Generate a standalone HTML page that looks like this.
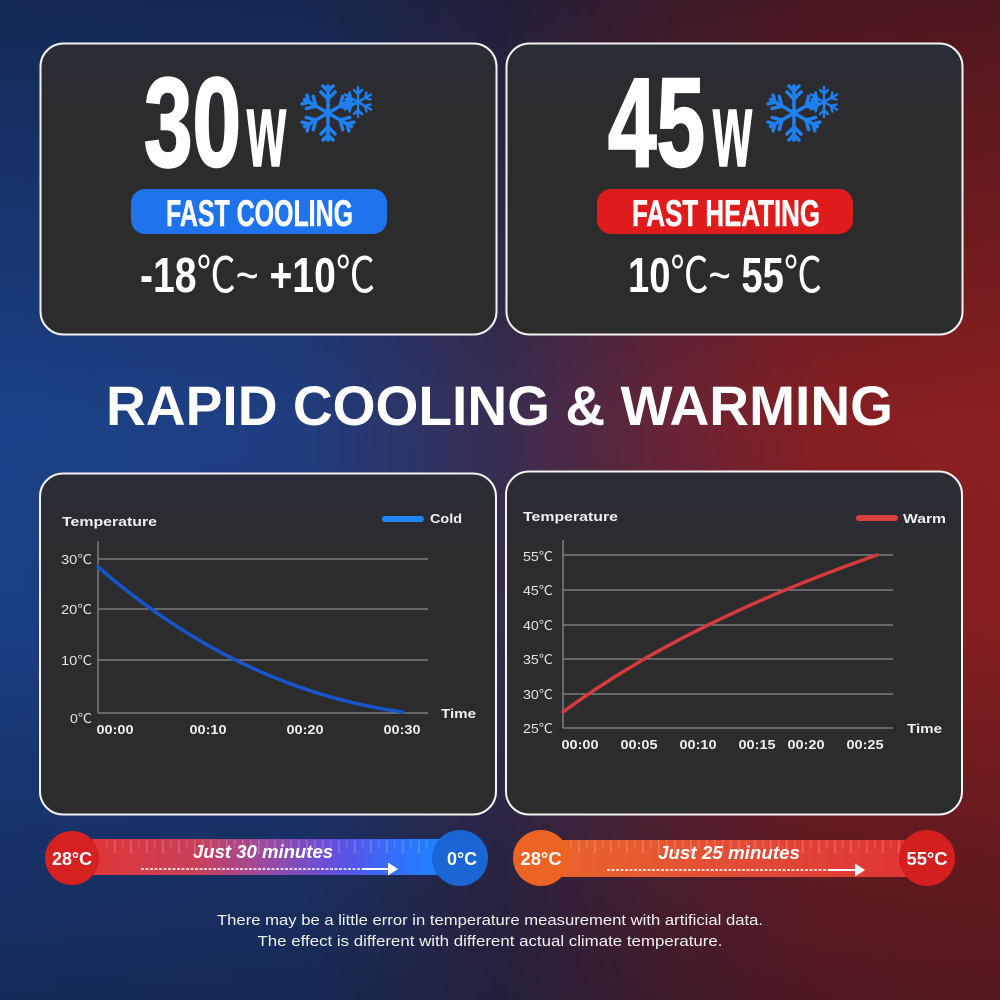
<!DOCTYPE html>
<html><head><meta charset="utf-8">
<style>
html,body{margin:0;padding:0;background:#222;}
svg{display:block;}
text{font-family:"Liberation Sans","Noto Sans CJK SC","DejaVu Sans",sans-serif;}
</style></head>
<body>
<svg width="1000" height="1000" viewBox="0 0 1000 1000" xmlns="http://www.w3.org/2000/svg">
<defs>
  <linearGradient id="bgH" x1="0" y1="0" x2="1" y2="0">
    <stop offset="0" stop-color="#1b4188"/>
    <stop offset="0.3" stop-color="#1f3e80"/>
    <stop offset="0.5" stop-color="#382d52"/>
    <stop offset="0.68" stop-color="#6a2434"/>
    <stop offset="0.82" stop-color="#851f22"/>
    <stop offset="1" stop-color="#8b1f1f"/>
  </linearGradient>
  <linearGradient id="bgV" x1="0" y1="0" x2="0" y2="1">
    <stop offset="0" stop-color="#0a0f1c" stop-opacity="0.48"/>
    <stop offset="0.3" stop-color="#0a0f1c" stop-opacity="0.14"/>
    <stop offset="0.42" stop-color="#0a0f1c" stop-opacity="0"/>
    <stop offset="0.62" stop-color="#0a0f1c" stop-opacity="0.04"/>
    <stop offset="0.85" stop-color="#0a0f1c" stop-opacity="0.3"/>
    <stop offset="1" stop-color="#0a0f1c" stop-opacity="0.44"/>
  </linearGradient>
  <linearGradient id="card" x1="0" y1="0" x2="0" y2="1">
    <stop offset="0" stop-color="#2a2d36"/>
    <stop offset="0.25" stop-color="#2c2c2e"/>
    <stop offset="1" stop-color="#2c2c2c"/>
  </linearGradient>
  <linearGradient id="barL" x1="0" y1="0" x2="1" y2="0">
    <stop offset="0" stop-color="#e03636"/>
    <stop offset="0.3" stop-color="#c8405a"/>
    <stop offset="0.5" stop-color="#9a4aa0"/>
    <stop offset="0.7" stop-color="#6050e0"/>
    <stop offset="0.88" stop-color="#3070ff"/>
    <stop offset="1" stop-color="#1e84ff"/>
  </linearGradient>
  <linearGradient id="barR" x1="0" y1="0" x2="1" y2="0">
    <stop offset="0" stop-color="#e8642c"/>
    <stop offset="0.5" stop-color="#e24c36"/>
    <stop offset="1" stop-color="#e03434"/>
  </linearGradient>
  <pattern id="ticks" x="0" y="0" width="16" height="40" patternUnits="userSpaceOnUse">
    <rect x="2" y="0" width="1.5" height="14" fill="#ffffff" fill-opacity="0.2"/>
    <rect x="10" y="0" width="1.5" height="8" fill="#ffffff" fill-opacity="0.16"/>
  </pattern>
  <g id="arm">
    <line x1="0" y1="0" x2="0" y2="-27"/>
    <polyline points="-7,-21 0,-14 7,-21" fill="none"/>
    <polyline points="-5,-27 0,-22 5,-27" fill="none"/>
  </g>
  <g id="armS">
    <line x1="0" y1="0" x2="0" y2="-15"/>
    <polyline points="-4,-12 0,-8 4,-12" fill="none"/>
  </g>
  <g id="flake" stroke="#1f80f2" stroke-width="3.6" stroke-linecap="round" stroke-linejoin="round">
    <use href="#arm" transform="rotate(0)"/>
    <use href="#arm" transform="rotate(60)"/>
    <use href="#arm" transform="rotate(120)"/>
    <use href="#arm" transform="rotate(180)"/>
    <use href="#arm" transform="rotate(240)"/>
    <use href="#arm" transform="rotate(300)"/>
  </g>
  <g id="flakeS" stroke="#1f80f2" stroke-width="2.4" stroke-linecap="round" stroke-linejoin="round">
    <use href="#armS" transform="rotate(0)"/>
    <use href="#armS" transform="rotate(60)"/>
    <use href="#armS" transform="rotate(120)"/>
    <use href="#armS" transform="rotate(180)"/>
    <use href="#armS" transform="rotate(240)"/>
    <use href="#armS" transform="rotate(300)"/>
  </g>
</defs>

<!-- background -->
<rect x="0" y="0" width="1000" height="1000" fill="url(#bgH)"/>
<rect x="0" y="0" width="1000" height="1000" fill="url(#bgV)"/>

<!-- top cards -->
<rect x="40.5" y="43.5" width="456" height="291" rx="23" fill="url(#card)" stroke="#f2f2f2" stroke-width="2"/>
<rect x="506.5" y="43.5" width="456" height="291" rx="23" fill="url(#card)" stroke="#f2f2f2" stroke-width="2"/>

<!-- 30w -->
<text x="144" y="166" font-size="126" font-weight="bold" fill="#fff" stroke="#fff" stroke-width="2.5" textLength="97" lengthAdjust="spacingAndGlyphs">30</text>
<text x="247" y="166" font-size="106" font-weight="bold" fill="#fff" stroke="#fff" stroke-width="1.5" textLength="39" lengthAdjust="spacingAndGlyphs">w</text>
<use href="#flakeS" transform="translate(358,102)"/>
<use href="#flake" transform="translate(328,113)"/>
<rect x="131" y="189" width="256" height="45" rx="14" fill="#1f74ee"/>
<text x="166" y="226" font-size="37" font-weight="bold" fill="#fff" stroke="#fff" stroke-width="0.6" textLength="187" lengthAdjust="spacingAndGlyphs">FAST COOLING</text>
<text x="140" y="292" font-size="49" font-weight="bold" fill="#fff" textLength="235" lengthAdjust="spacingAndGlyphs">-18<tspan font-weight="normal">℃~ </tspan>+10<tspan font-weight="normal">℃</tspan></text>

<!-- 45w -->
<text x="608" y="166" font-size="126" font-weight="bold" fill="#fff" stroke="#fff" stroke-width="2.5" textLength="97" lengthAdjust="spacingAndGlyphs">45</text>
<text x="713" y="166" font-size="106" font-weight="bold" fill="#fff" stroke="#fff" stroke-width="1.5" textLength="39" lengthAdjust="spacingAndGlyphs">w</text>
<use href="#flakeS" transform="translate(824,102)"/>
<use href="#flake" transform="translate(794,113)"/>
<rect x="597" y="189" width="256" height="45" rx="14" fill="#e01b1b"/>
<text x="632" y="226" font-size="37" font-weight="bold" fill="#fff" stroke="#fff" stroke-width="0.6" textLength="188" lengthAdjust="spacingAndGlyphs">FAST HEATING</text>
<text x="628" y="292" font-size="49" font-weight="bold" fill="#fff" textLength="194" lengthAdjust="spacingAndGlyphs">10<tspan font-weight="normal">℃~ </tspan>55<tspan font-weight="normal">℃</tspan></text>

<!-- title -->
<text x="106" y="425" font-size="56" font-weight="bold" fill="#fff" textLength="787" lengthAdjust="spacingAndGlyphs">RAPID COOLING &amp; WARMING</text>

<!-- bottom cards -->
<rect x="40" y="473.5" width="456" height="341" rx="23" fill="url(#card)" stroke="#f2f2f2" stroke-width="2"/>
<rect x="506" y="471.5" width="456" height="343" rx="23" fill="url(#card)" stroke="#f2f2f2" stroke-width="2"/>

<!-- left chart -->
<text x="62" y="526" font-size="13" font-weight="bold" fill="#f0f0f0" textLength="95" lengthAdjust="spacingAndGlyphs">Temperature</text>
<line x1="385" y1="519" x2="421" y2="519" stroke="#1e86f5" stroke-width="6" stroke-linecap="round"/>
<text x="430" y="523" font-size="13" font-weight="bold" fill="#f0f0f0" textLength="32" lengthAdjust="spacingAndGlyphs">Cold</text>
<g stroke="#8a8a8a" stroke-width="1.3">
  <line x1="98" y1="559" x2="428" y2="559"/>
  <line x1="98" y1="609" x2="428" y2="609"/>
  <line x1="98" y1="660" x2="428" y2="660"/>
  <line x1="98" y1="713" x2="428" y2="713"/>
  <line x1="98" y1="541" x2="98" y2="713"/>
</g>
<g font-size="13" fill="#e4e4e4" text-anchor="end">
  <text x="92" y="564" textLength="31" lengthAdjust="spacingAndGlyphs">30℃</text>
  <text x="92" y="614" textLength="31" lengthAdjust="spacingAndGlyphs">20℃</text>
  <text x="92" y="665" textLength="31" lengthAdjust="spacingAndGlyphs">10℃</text>
  <text x="92" y="723" textLength="22" lengthAdjust="spacingAndGlyphs">0℃</text>
</g>
<g font-size="13" font-weight="bold" fill="#f0f0f0" text-anchor="middle">
  <text x="115" y="734" textLength="37" lengthAdjust="spacingAndGlyphs">00:00</text>
  <text x="208" y="734" textLength="37" lengthAdjust="spacingAndGlyphs">00:10</text>
  <text x="305" y="734" textLength="37" lengthAdjust="spacingAndGlyphs">00:20</text>
  <text x="402" y="734" textLength="37" lengthAdjust="spacingAndGlyphs">00:30</text>
</g>
<text x="441" y="718" font-size="13" font-weight="bold" fill="#f0f0f0" textLength="35" lengthAdjust="spacingAndGlyphs">Time</text>
<path d="M98,567 Q240,690 403,712" fill="none" stroke="#1655cc" stroke-width="3.5" stroke-linecap="round"/>

<!-- right chart -->
<text x="523" y="521" font-size="13" font-weight="bold" fill="#f0f0f0" textLength="95" lengthAdjust="spacingAndGlyphs">Temperature</text>
<line x1="859" y1="518" x2="895" y2="518" stroke="#d94040" stroke-width="6" stroke-linecap="round"/>
<text x="903" y="523" font-size="13" font-weight="bold" fill="#f0f0f0" textLength="43" lengthAdjust="spacingAndGlyphs">Warm</text>
<g stroke="#8a8a8a" stroke-width="1.3">
  <line x1="563" y1="555" x2="893" y2="555"/>
  <line x1="563" y1="590" x2="893" y2="590"/>
  <line x1="563" y1="625" x2="893" y2="625"/>
  <line x1="563" y1="659" x2="893" y2="659"/>
  <line x1="563" y1="694" x2="893" y2="694"/>
  <line x1="563" y1="728" x2="893" y2="728"/>
  <line x1="563" y1="540" x2="563" y2="728"/>
</g>
<g font-size="13" fill="#e4e4e4" text-anchor="end">
  <text x="553" y="561" textLength="30" lengthAdjust="spacingAndGlyphs">55℃</text>
  <text x="553" y="595" textLength="30" lengthAdjust="spacingAndGlyphs">45℃</text>
  <text x="553" y="630" textLength="30" lengthAdjust="spacingAndGlyphs">40℃</text>
  <text x="553" y="664" textLength="30" lengthAdjust="spacingAndGlyphs">35℃</text>
  <text x="553" y="699" textLength="30" lengthAdjust="spacingAndGlyphs">30℃</text>
  <text x="553" y="733" textLength="30" lengthAdjust="spacingAndGlyphs">25℃</text>
</g>
<g font-size="13" font-weight="bold" fill="#f0f0f0" text-anchor="middle">
  <text x="580" y="749" textLength="37" lengthAdjust="spacingAndGlyphs">00:00</text>
  <text x="639" y="749" textLength="37" lengthAdjust="spacingAndGlyphs">00:05</text>
  <text x="698" y="749" textLength="37" lengthAdjust="spacingAndGlyphs">00:10</text>
  <text x="757" y="749" textLength="37" lengthAdjust="spacingAndGlyphs">00:15</text>
  <text x="806" y="749" textLength="37" lengthAdjust="spacingAndGlyphs">00:20</text>
  <text x="865" y="749" textLength="37" lengthAdjust="spacingAndGlyphs">00:25</text>
</g>
<text x="907" y="733" font-size="13" font-weight="bold" fill="#f0f0f0" textLength="35" lengthAdjust="spacingAndGlyphs">Time</text>
<path d="M563,712 Q685,622 877,555" fill="none" stroke="#d63a3a" stroke-width="3.5" stroke-linecap="round"/>

<!-- bottom left bar -->
<rect x="92" y="839" width="350" height="36" fill="url(#barL)"/>
<rect x="100" y="839" width="330" height="20" fill="url(#ticks)"/>
<circle cx="72" cy="858" r="27" fill="#d52121"/>
<circle cx="460" cy="858" r="28" fill="#1a66d4"/>
<text x="72" y="865" font-size="18" font-weight="bold" fill="#fff" text-anchor="middle" textLength="40" lengthAdjust="spacingAndGlyphs">28°C</text>
<text x="462" y="865" font-size="18" font-weight="bold" fill="#fff" text-anchor="middle" textLength="30" lengthAdjust="spacingAndGlyphs">0°C</text>
<text x="193" y="858" font-size="18" font-weight="bold" font-style="italic" fill="#fff" textLength="140" lengthAdjust="spacingAndGlyphs">Just 30 minutes</text>
<line x1="141" y1="869" x2="363" y2="869" stroke="#fff" stroke-width="1.6" stroke-dasharray="3 1.5"/>
<line x1="363" y1="869" x2="390" y2="869" stroke="#fff" stroke-width="2"/>
<polygon points="388,862.5 398,869 388,875.5" fill="#fff"/>

<!-- bottom right bar -->
<rect x="562" y="840" width="348" height="37" fill="url(#barR)"/>
<rect x="570" y="840" width="330" height="20" fill="url(#ticks)"/>
<circle cx="541" cy="858" r="28" fill="#ec6424"/>
<circle cx="927" cy="858" r="28" fill="#d41f1f"/>
<text x="541" y="865" font-size="18" font-weight="bold" fill="#fff" text-anchor="middle" textLength="41" lengthAdjust="spacingAndGlyphs">28°C</text>
<text x="927" y="865" font-size="18" font-weight="bold" fill="#fff" text-anchor="middle" textLength="41" lengthAdjust="spacingAndGlyphs">55°C</text>
<text x="658" y="859" font-size="18" font-weight="bold" font-style="italic" fill="#fff" textLength="142" lengthAdjust="spacingAndGlyphs">Just 25 minutes</text>
<line x1="607" y1="870" x2="828" y2="870" stroke="#fff" stroke-width="1.6" stroke-dasharray="3 1.5"/>
<line x1="828" y1="870" x2="857" y2="870" stroke="#fff" stroke-width="2"/>
<polygon points="855,863.5 865,870 855,876.5" fill="#fff"/>

<!-- footer -->
<text x="490" y="925" font-size="15" fill="#f2f2f2" text-anchor="middle" textLength="546" lengthAdjust="spacingAndGlyphs">There may be a little error in temperature measurement with artificial data.</text>
<text x="490" y="946" font-size="15" fill="#f2f2f2" text-anchor="middle" textLength="465" lengthAdjust="spacingAndGlyphs">The effect is different with different actual climate temperature.</text>
</svg>
</body></html>
